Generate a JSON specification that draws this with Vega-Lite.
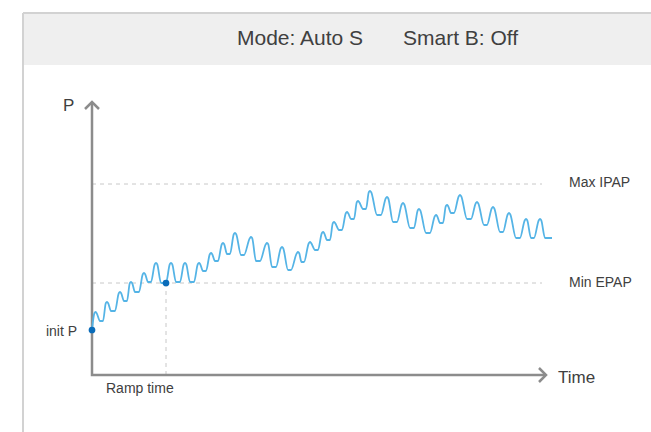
{
  "$schema": "https://vega.github.io/schema/vega-lite/v6.json",
  "width": 651,
  "height": 432,
  "autosize": {"type": "none"},
  "padding": 0,
  "background": "white",
  "view": {"stroke": null},
  "config": {"text": {"font": "Liberation Sans", "color": "#404040"}},
  "datasets": {
    "wave": [
      {"x": 0, "y": 45}, {"x": 2.4, "y": 61.8}, {"x": 3.5, "y": 63}, {"x": 4.7, "y": 61.8}, {"x": 8, "y": 54}, {"x": 11, "y": 54},
      {"x": 13.8, "y": 71.8}, {"x": 15, "y": 73}, {"x": 16.2, "y": 71.8}, {"x": 19, "y": 64}, {"x": 23, "y": 64},
      {"x": 26.8, "y": 81.8}, {"x": 28, "y": 83}, {"x": 29.2, "y": 81.8}, {"x": 32, "y": 74}, {"x": 35, "y": 74},
      {"x": 37.8, "y": 91.8}, {"x": 39, "y": 93}, {"x": 40.2, "y": 91.8}, {"x": 43, "y": 83}, {"x": 47, "y": 83},
      {"x": 50.8, "y": 100.8}, {"x": 52, "y": 102}, {"x": 53.2, "y": 100.8}, {"x": 56, "y": 93}, {"x": 59, "y": 93},
      {"x": 62.8, "y": 110.8}, {"x": 64, "y": 112}, {"x": 65.2, "y": 110.8}, {"x": 69, "y": 92}, {"x": 74, "y": 92},
      {"x": 77.8, "y": 110.8}, {"x": 79, "y": 112}, {"x": 80.2, "y": 110.8}, {"x": 84, "y": 93}, {"x": 88, "y": 93},
      {"x": 91.8, "y": 110.8}, {"x": 93, "y": 112}, {"x": 94.2, "y": 110.8}, {"x": 98, "y": 93}, {"x": 102, "y": 93},
      {"x": 105.8, "y": 110.8}, {"x": 107, "y": 112}, {"x": 108.2, "y": 110.8}, {"x": 111, "y": 104}, {"x": 114, "y": 104},
      {"x": 117.8, "y": 120.8}, {"x": 119, "y": 122}, {"x": 120.2, "y": 120.8}, {"x": 123, "y": 114}, {"x": 126, "y": 114},
      {"x": 129.8, "y": 130.8}, {"x": 131, "y": 132}, {"x": 132.2, "y": 130.8}, {"x": 135, "y": 121}, {"x": 138, "y": 121},
      {"x": 141.8, "y": 140.8}, {"x": 143, "y": 142}, {"x": 144.2, "y": 140.8}, {"x": 149, "y": 120}, {"x": 152, "y": 120},
      {"x": 157.8, "y": 136.8}, {"x": 159, "y": 138}, {"x": 160.2, "y": 136.8}, {"x": 164, "y": 114}, {"x": 168, "y": 114},
      {"x": 173.8, "y": 130.8}, {"x": 175, "y": 132}, {"x": 176.2, "y": 130.8}, {"x": 180, "y": 108}, {"x": 184, "y": 108},
      {"x": 188.8, "y": 126.8}, {"x": 190, "y": 128}, {"x": 191.2, "y": 126.8}, {"x": 196, "y": 105}, {"x": 199, "y": 105},
      {"x": 204.8, "y": 121.8}, {"x": 206, "y": 123}, {"x": 207.2, "y": 121.8}, {"x": 209.5, "y": 113}, {"x": 212, "y": 113},
      {"x": 216.8, "y": 131.8}, {"x": 218, "y": 133}, {"x": 219.2, "y": 131.8}, {"x": 223, "y": 125}, {"x": 226, "y": 125},
      {"x": 229.8, "y": 141.8}, {"x": 231, "y": 143}, {"x": 232.2, "y": 141.8}, {"x": 235, "y": 135}, {"x": 238, "y": 135},
      {"x": 240.8, "y": 151.8}, {"x": 242, "y": 153}, {"x": 243.2, "y": 151.8}, {"x": 247, "y": 145}, {"x": 250, "y": 145},
      {"x": 253.8, "y": 161.8}, {"x": 255, "y": 163}, {"x": 256.2, "y": 161.8}, {"x": 259, "y": 156}, {"x": 262, "y": 156},
      {"x": 264.8, "y": 172.8}, {"x": 266, "y": 174}, {"x": 267.2, "y": 172.8}, {"x": 271, "y": 166}, {"x": 274, "y": 166},
      {"x": 276.8, "y": 182.8}, {"x": 278, "y": 184}, {"x": 279.2, "y": 182.8}, {"x": 285, "y": 160}, {"x": 289, "y": 160},
      {"x": 293.8, "y": 176.8}, {"x": 295, "y": 178}, {"x": 296.2, "y": 176.8}, {"x": 301, "y": 153}, {"x": 305, "y": 153},
      {"x": 309.8, "y": 170.8}, {"x": 311, "y": 172}, {"x": 312.2, "y": 170.8}, {"x": 318, "y": 147}, {"x": 322, "y": 147},
      {"x": 325.8, "y": 164.8}, {"x": 327, "y": 166}, {"x": 328.2, "y": 164.8}, {"x": 334, "y": 142}, {"x": 338, "y": 142},
      {"x": 342.8, "y": 158.8}, {"x": 344, "y": 160}, {"x": 345.2, "y": 158.8}, {"x": 348, "y": 152}, {"x": 351, "y": 152},
      {"x": 353.8, "y": 168.8}, {"x": 355, "y": 170}, {"x": 356.2, "y": 168.8}, {"x": 359, "y": 162}, {"x": 362, "y": 162},
      {"x": 366.8, "y": 178.8}, {"x": 368, "y": 180}, {"x": 369.2, "y": 178.8}, {"x": 375, "y": 156}, {"x": 379, "y": 156},
      {"x": 383.8, "y": 171.8}, {"x": 385, "y": 173}, {"x": 386.2, "y": 171.8}, {"x": 392, "y": 150}, {"x": 395, "y": 150},
      {"x": 399.8, "y": 166.8}, {"x": 401, "y": 168}, {"x": 402.2, "y": 166.8}, {"x": 408, "y": 143}, {"x": 411, "y": 143},
      {"x": 415.8, "y": 160.8}, {"x": 417, "y": 162}, {"x": 418.2, "y": 160.8}, {"x": 424, "y": 137}, {"x": 428, "y": 137},
      {"x": 432.8, "y": 154.8}, {"x": 434, "y": 156}, {"x": 435.2, "y": 154.8}, {"x": 439, "y": 137}, {"x": 442, "y": 137},
      {"x": 446.8, "y": 154.8}, {"x": 448, "y": 156}, {"x": 449.2, "y": 154.8}, {"x": 453, "y": 137}, {"x": 460, "y": 137}
    ],
    "frame": [
      {"x": -69, "y": -57, "x2": -69, "y2": 362},
      {"x": -69, "y": 362, "x2": 559, "y2": 362}
    ],
    "guides": [
      {"x": 0, "y": 191, "x2": 450, "y2": 191},
      {"x": 0, "y": 92, "x2": 450, "y2": 92},
      {"x": 74, "y": 0, "x2": 74, "y2": 92}
    ],
    "axes": [
      {"g": "axis", "i": 0, "x": 0, "y": 273},
      {"g": "axis", "i": 1, "x": 0, "y": 0},
      {"g": "axis", "i": 2, "x": 454, "y": 0},
      {"g": "up", "i": 0, "x": -7, "y": 266},
      {"g": "up", "i": 1, "x": 0, "y": 273},
      {"g": "up", "i": 2, "x": 7, "y": 266},
      {"g": "right", "i": 0, "x": 447, "y": 7},
      {"g": "right", "i": 1, "x": 454, "y": 0},
      {"g": "right", "i": 2, "x": 447, "y": -7}
    ],
    "pts": [
      {"x": 0, "y": 45},
      {"x": 74, "y": 92}
    ]
  },
  "layer": [
    {
      "data": {"values": [{"x": -68, "x2": 559, "y": 310, "y2": 361}]},
      "mark": {"type": "rect", "fill": "#efefef"},
      "encoding": {
        "x": {"field": "x", "type": "quantitative", "scale": {"domain": [-92, 559]}, "axis": null},
        "x2": {"field": "x2"},
        "y": {"field": "y", "type": "quantitative", "scale": {"domain": [-57, 375]}, "axis": null},
        "y2": {"field": "y2"}
      }
    },
    {
      "data": {"name": "frame"},
      "mark": {"type": "rule", "stroke": "#d2d2d2", "strokeWidth": 2},
      "encoding": {
        "x": {"field": "x", "type": "quantitative", "scale": {"domain": [-92, 559]}, "axis": null},
        "x2": {"field": "x2"},
        "y": {"field": "y", "type": "quantitative", "scale": {"domain": [-57, 375]}, "axis": null},
        "y2": {"field": "y2"}
      }
    },
    {
      "data": {"name": "guides"},
      "mark": {"type": "rule", "stroke": "#c8c8c8", "strokeWidth": 1, "strokeDash": [4, 4]},
      "encoding": {
        "x": {"field": "x", "type": "quantitative", "scale": {"domain": [-92, 559]}, "axis": null},
        "x2": {"field": "x2"},
        "y": {"field": "y", "type": "quantitative", "scale": {"domain": [-57, 375]}, "axis": null},
        "y2": {"field": "y2"}
      }
    },
    {
      "data": {"name": "axes"},
      "mark": {"type": "line", "stroke": "#8c8c8c", "strokeWidth": 2.5, "strokeJoin": "miter"},
      "encoding": {
        "x": {"field": "x", "type": "quantitative", "scale": {"domain": [-92, 559]}, "axis": null},
        "y": {"field": "y", "type": "quantitative", "scale": {"domain": [-57, 375]}, "axis": null},
        "detail": {"field": "g"},
        "order": {"field": "i"}
      }
    },
    {
      "data": {"name": "wave"},
      "mark": {"type": "line", "stroke": "#55b4e6", "strokeWidth": 1.8, "interpolate": "monotone"},
      "encoding": {
        "x": {"field": "x", "type": "quantitative", "scale": {"domain": [-92, 559]}, "axis": null},
        "y": {"field": "y", "type": "quantitative", "scale": {"domain": [-57, 375]}, "axis": null}
      }
    },
    {
      "data": {"name": "pts"},
      "mark": {"type": "circle", "color": "#0a6cb9", "opacity": 1, "size": 45},
      "encoding": {
        "x": {"field": "x", "type": "quantitative", "scale": {"domain": [-92, 559]}, "axis": null},
        "y": {"field": "y", "type": "quantitative", "scale": {"domain": [-57, 375]}, "axis": null}
      }
    },
    {
      "data": {"values": [{"x": 145, "y": 336.5, "label": "Mode: Auto S"}, {"x": 311, "y": 336.5, "label": "Smart B: Off"}]},
      "mark": {"type": "text", "fontSize": 21, "align": "left", "baseline": "middle"},
      "encoding": {
        "x": {"field": "x", "type": "quantitative", "scale": {"domain": [-92, 559]}, "axis": null},
        "y": {"field": "y", "type": "quantitative", "scale": {"domain": [-57, 375]}, "axis": null},
        "text": {"field": "label"}
      }
    },
    {
      "data": {"values": [{"x": -29, "y": 269, "label": "P"}, {"x": 466, "y": -2.5, "label": "Time"}]},
      "mark": {"type": "text", "fontSize": 17, "align": "left", "baseline": "middle"},
      "encoding": {
        "x": {"field": "x", "type": "quantitative", "scale": {"domain": [-92, 559]}, "axis": null},
        "y": {"field": "y", "type": "quantitative", "scale": {"domain": [-57, 375]}, "axis": null},
        "text": {"field": "label"}
      }
    },
    {
      "data": {"values": [{"x": 477, "y": 192, "label": "Max IPAP"}, {"x": 477, "y": 92.5, "label": "Min EPAP"}, {"x": 14, "y": -14, "label": "Ramp time"}]},
      "mark": {"type": "text", "fontSize": 14, "align": "left", "baseline": "middle"},
      "encoding": {
        "x": {"field": "x", "type": "quantitative", "scale": {"domain": [-92, 559]}, "axis": null},
        "y": {"field": "y", "type": "quantitative", "scale": {"domain": [-57, 375]}, "axis": null},
        "text": {"field": "label"}
      }
    },
    {
      "data": {"values": [{"x": -15, "y": 43.5, "label": "init P"}]},
      "mark": {"type": "text", "fontSize": 14, "align": "right", "baseline": "middle"},
      "encoding": {
        "x": {"field": "x", "type": "quantitative", "scale": {"domain": [-92, 559]}, "axis": null},
        "y": {"field": "y", "type": "quantitative", "scale": {"domain": [-57, 375]}, "axis": null},
        "text": {"field": "label"}
      }
    }
  ]
}
